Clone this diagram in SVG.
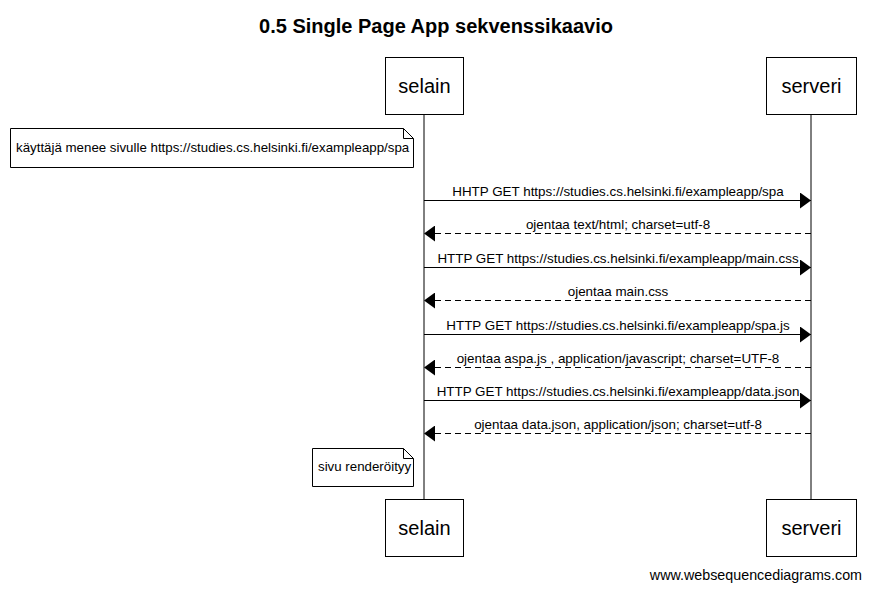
<svg xmlns="http://www.w3.org/2000/svg" width="871" height="590" viewBox="0 0 871 590">
<style>
text{font-family:"Liberation Sans",Arial,sans-serif;fill:#000}
.actor rect{fill:#fff;stroke:#000;stroke-width:1}
.actor text{font-size:20px;text-anchor:middle}
.life{stroke:#000;stroke-width:1}
.msg{stroke:#000;stroke-width:1;fill:none}
.ret{stroke-dasharray:6,4}
.lbl{font-size:13.4px;text-anchor:middle}
.note path{fill:#fff;stroke:#000;stroke-width:1}
.note text{font-size:13.3px}
</style>
<defs>
<marker id="ah" markerWidth="12" markerHeight="16" refX="11" refY="8" orient="auto" markerUnits="userSpaceOnUse">
<path d="M0,0 L11,8 L0,16 Z" fill="#000"/>
</marker>
</defs>
<rect width="871" height="590" fill="#fff"/>
<text x="436" y="33" font-size="20" font-weight="bold" text-anchor="middle" style="font-family:'Liberation Sans',Arial,sans-serif">0.5 Single Page App sekvenssikaavio</text>
<g id="lifelines">
<line class="life" x1="424" y1="114" x2="424" y2="499"/>
<line class="life" x1="811" y1="114" x2="811" y2="499"/>
</g>
<g id="selain" class="actor"><rect x="385.5" y="57.5" width="78" height="57"/><text x="424.5" y="93">selain</text></g>
<g id="serveri" class="actor"><rect x="766.5" y="57.5" width="90" height="57"/><text x="811.5" y="93">serveri</text></g>
<g id="selain-bottom" class="actor"><rect x="385.5" y="499.5" width="78" height="57"/><text x="424.5" y="535">selain</text></g>
<g id="serveri-bottom" class="actor"><rect x="766.5" y="499.5" width="90" height="57"/><text x="811.5" y="535">serveri</text></g>
<g id="note1" class="note"><path d="M10.5,128.5 H403.5 L413.5,138.5 V167.5 H10.5 Z M403.5,128.5 V138.5 H413.5"/><text x="16" y="152">käyttäjä menee sivulle https://studies.cs.helsinki.fi/exampleapp/spa</text></g>
<g id="note2" class="note"><path d="M312.5,448.5 H403.5 L413.5,458.5 V486.5 H312.5 Z M403.5,448.5 V458.5 H413.5"/><text x="318" y="471">sivu renderöityy</text></g>
<g id="connectors">
<line class="msg" x1="424" y1="200.5" x2="811" y2="200.5" marker-end="url(#ah)"/>
<line class="msg ret" x1="811" y1="233.5" x2="424" y2="233.5" marker-end="url(#ah)"/>
<line class="msg" x1="424" y1="267.5" x2="811" y2="267.5" marker-end="url(#ah)"/>
<line class="msg ret" x1="811" y1="300.5" x2="424" y2="300.5" marker-end="url(#ah)"/>
<line class="msg" x1="424" y1="334.5" x2="811" y2="334.5" marker-end="url(#ah)"/>
<line class="msg ret" x1="811" y1="367.5" x2="424" y2="367.5" marker-end="url(#ah)"/>
<line class="msg" x1="424" y1="400.5" x2="811" y2="400.5" marker-end="url(#ah)"/>
<line class="msg ret" x1="811" y1="433.5" x2="424" y2="433.5" marker-end="url(#ah)"/>
<text class="lbl" x="618" y="196">HHTP GET https://studies.cs.helsinki.fi/exampleapp/spa</text>
<text class="lbl" x="618" y="229">ojentaa text/html; charset=utf-8</text>
<text class="lbl" x="618" y="263">HTTP GET https://studies.cs.helsinki.fi/exampleapp/main.css</text>
<text class="lbl" x="618" y="296">ojentaa main.css</text>
<text class="lbl" x="618" y="330">HTTP GET https://studies.cs.helsinki.fi/exampleapp/spa.js</text>
<text class="lbl" x="618" y="363">ojentaa aspa.js , application/javascript; charset=UTF-8</text>
<text class="lbl" x="618" y="396">HTTP GET https://studies.cs.helsinki.fi/exampleapp/data.json</text>
<text class="lbl" x="618" y="429">ojentaa data.json, application/json; charset=utf-8</text>
</g>
<text x="862" y="580" font-size="14.3" text-anchor="end" style="font-family:'Liberation Sans',Arial,sans-serif">www.websequencediagrams.com</text>
</svg>
